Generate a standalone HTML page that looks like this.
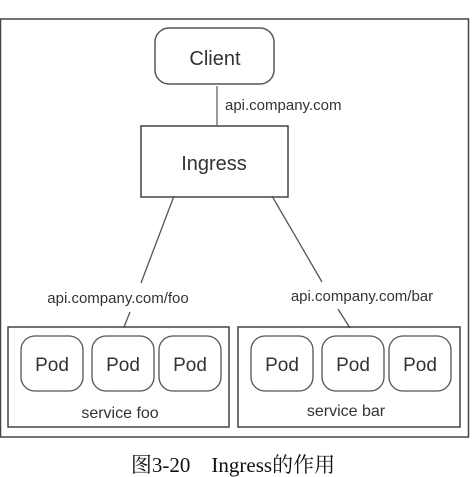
<!DOCTYPE html>
<html><head><meta charset="utf-8"><style>
html,body{margin:0;padding:0;background:#fff;width:476px;height:477px;overflow:hidden}
</style></head><body>
<svg width="476" height="477" xmlns="http://www.w3.org/2000/svg" font-family="Liberation Sans, sans-serif" fill="#333">
<rect x="0.5" y="19" width="468" height="418" fill="none" stroke="#444" stroke-width="1.5"/>
<rect x="155" y="28" width="119" height="56" rx="14" fill="none" stroke="#555" stroke-width="1.5"/>
<text x="215" y="65" font-size="20" text-anchor="middle">Client</text>
<line x1="217" y1="86" x2="217" y2="125" stroke="#555" stroke-width="1.2"/>
<text x="225" y="110" font-size="15">api.company.com</text>
<rect x="141" y="126" width="147" height="71" fill="none" stroke="#444" stroke-width="1.5"/>
<text x="214" y="170" font-size="20" text-anchor="middle">Ingress</text>
<g stroke="#555" stroke-width="1.3">
<line x1="174" y1="196" x2="141" y2="283"/>
<line x1="130" y1="312" x2="124" y2="327"/>
<line x1="272" y1="196" x2="322" y2="282"/>
<line x1="338" y1="309" x2="350" y2="328"/>
</g>
<text x="118" y="303" font-size="15" text-anchor="middle">api.company.com/foo</text>
<text x="362" y="301" font-size="15" text-anchor="middle">api.company.com/bar</text>
<g fill="none" stroke="#444" stroke-width="1.5">
<rect x="8" y="327" width="221" height="100"/>
<rect x="238" y="327" width="222" height="100"/>
</g>
<g fill="none" stroke="#555" stroke-width="1.3">
<rect x="21" y="336" width="62" height="55" rx="14"/>
<rect x="92" y="336" width="62" height="55" rx="14"/>
<rect x="159" y="336" width="62" height="55" rx="14"/>
<rect x="251" y="336" width="62" height="55" rx="14"/>
<rect x="322" y="336" width="62" height="55" rx="14"/>
<rect x="389" y="336" width="62" height="55" rx="14"/>
</g>
<g font-size="19" text-anchor="middle">
<text x="52" y="371">Pod</text><text x="123" y="371">Pod</text><text x="190" y="371">Pod</text>
<text x="282" y="371">Pod</text><text x="353" y="371">Pod</text><text x="420" y="371">Pod</text>
</g>
<text x="120" y="418" font-size="16" text-anchor="middle">service foo</text>
<text x="346" y="416" font-size="16" text-anchor="middle">service bar</text>
<text x="233" y="472" font-size="21" text-anchor="middle" fill="#111" font-family="Liberation Serif, Noto Serif CJK SC, serif">图3-20　Ingress的作用</text>
</svg>
</body></html>
